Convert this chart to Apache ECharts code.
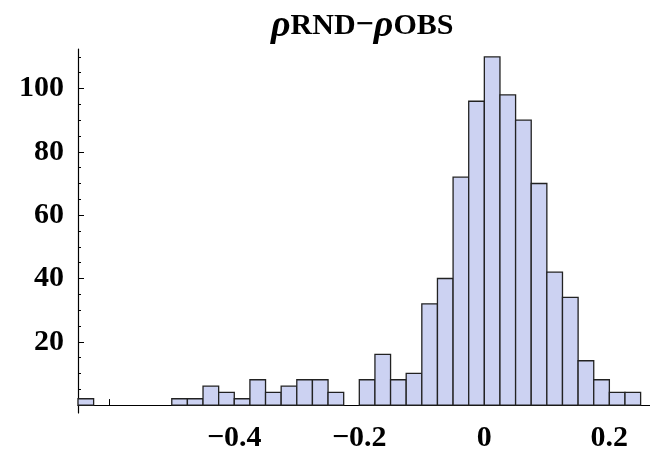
<!DOCTYPE html>
<html>
<head>
<meta charset="utf-8">
<script src="https://cdn.jsdelivr.net/npm/echarts@6/dist/echarts.min.js"></script>
<style>
  html, body { margin: 0; padding: 0; background: #fff; }
  #chart { width: 650px; height: 449px; }
</style>
</head>
<body>
<div id="chart"></div>
<script>
// histogram of rho_RND - rho_OBS, bin width 0.025
const binEdges = [
  -0.65, -0.625, -0.6, -0.575, -0.55, -0.525, -0.5, -0.475, -0.45, -0.425,
  -0.4, -0.375, -0.35, -0.325, -0.3, -0.275, -0.25, -0.225, -0.2, -0.175,
  -0.15, -0.125, -0.1, -0.075, -0.05, -0.025, 0, 0.025, 0.05, 0.075,
  0.1, 0.125, 0.15, 0.175, 0.2, 0.225, 0.25
]
const counts = [
  2, 0, 0, 0, 0, 0, 2, 2, 6, 4,
  2, 8, 4, 6, 8, 8, 4, 0, 8, 16,
  8, 10, 32, 40, 72, 96, 110, 98, 90, 70,
  42, 34, 14, 8, 4, 4
]
const xTickValues = [-0.6, -0.4, -0.2, 0, 0.2]
const xLabelValues = [-0.4, -0.2, 0, 0.2]
const yMajorTicks = [20, 40, 60, 80, 100]
const yMinorTicks = [5, 10, 15, 25, 30, 35, 45, 50, 55, 65, 70, 75, 85, 90, 95, 105, 110]

const bins = counts.map((c, i) => [binEdges[i], binEdges[i + 1], c])

const labelFont = {
  color: '#000',
  fontFamily: 'Liberation Serif',
  fontWeight: 'bold',
  fontSize: 30,
}

const chart = echarts.init(document.getElementById('chart'))

function fmtX(v) {
  if (v === 0) return '0'
  return (v < 0 ? '\u2212' : '') + Math.abs(v).toFixed(1)
}

const option = {
  backgroundColor: '#fff',
  animation: false,
  title: {
    text: '{rho|ρ}{sub|RND}{minus|\u2212}{rho|ρ}{sub|OBS}',
    left: 266,
    top: 2,
    textStyle: {
      rich: {
        rho: { fontFamily: 'Liberation Serif', fontStyle: 'italic', fontSize: 38, color: '#000' },
        sub: { fontFamily: 'Liberation Serif', fontWeight: 'bold', fontSize: 30, color: '#000' },
        minus: { fontFamily: 'Liberation Serif', fontWeight: 'bold', fontSize: 32, color: '#000' },
      },
    },
  },
  grid: { left: 78, right: 0, top: 49, bottom: 36, containLabel: false, outerBoundsMode: 'none' },
  xAxis: {
    type: 'value',
    min: -0.65,
    max: 0.265,
    axisLine: { show: true, onZero: true, onZeroAxisIndex: 0, lineStyle: { color: '#000', width: 1.2 } },
    axisTick: { show: true, inside: true, length: 6, customValues: xTickValues, lineStyle: { color: '#000' } },
    axisLabel: { ...labelFont, margin: 10, customValues: xLabelValues, formatter: fmtX },
    splitLine: { show: false },
  },
  yAxis: [
    {
      type: 'value',
      min: -2.5,
      max: 112.5,
      axisLine: { show: true, onZero: false, lineStyle: { color: '#000', width: 1.2 } },
      axisTick: { show: true, inside: true, length: 6, customValues: yMajorTicks, lineStyle: { color: '#000' } },
      axisLabel: { ...labelFont, margin: 14, customValues: yMajorTicks },
      splitLine: { show: false },
    },
    {
      type: 'value',
      position: 'left',
      min: -2.5,
      max: 112.5,
      axisLine: { show: false, onZero: false },
      axisTick: { show: true, inside: true, length: 3, customValues: yMinorTicks, lineStyle: { color: '#000' } },
      axisLabel: { show: false },
      splitLine: { show: false },
    },
  ],
  series: [
    {
      type: 'custom',
      xAxisIndex: 0,
      yAxisIndex: 0,
      data: bins,
      encode: { x: [0, 1], y: 2 },
      renderItem: (params, api) => {
        const c = api.value(2)
        if (!c) return
        const p0 = api.coord([api.value(0), c])
        const p1 = api.coord([api.value(1), 0])
        return {
          type: 'rect',
          shape: { x: p0[0], y: p0[1], width: p1[0] - p0[0], height: p1[1] - p0[1] },
          style: { fill: '#ccd2f2', stroke: '#222', lineWidth: 1.3 },
        }
      },
    },
  ],
}

chart.setOption(option)
</script>
</body>
</html>
